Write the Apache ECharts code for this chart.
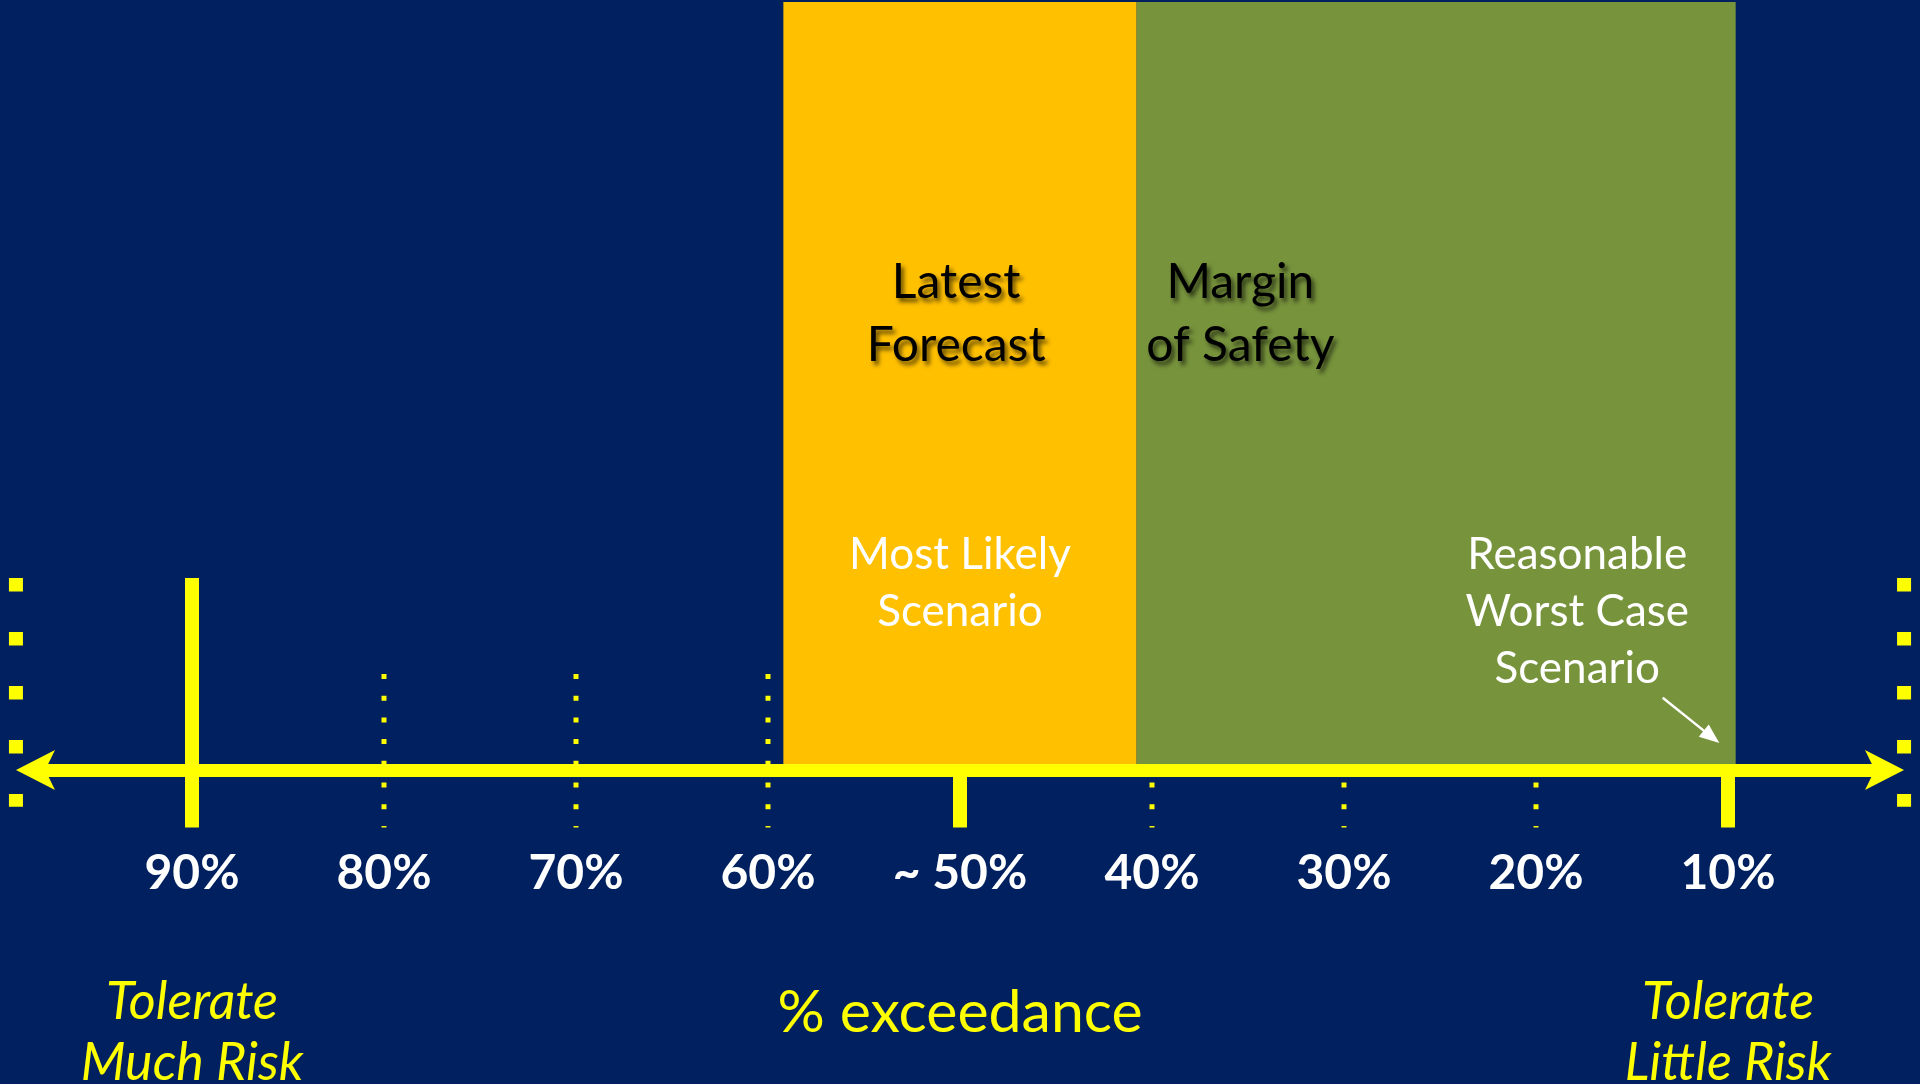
<!DOCTYPE html>
<html>
<head>
<meta charset="utf-8">
<title>% exceedance</title>
<script src="https://cdn.jsdelivr.net/npm/echarts@6/dist/echarts.min.js"></script>
<style>
  html, body { margin: 0; padding: 0; background: #002060; }
  #chart { width: 1920px; height: 1084px; }
</style>
</head>
<body>
<div id="chart"></div>
<script>
// ---- data ---------------------------------------------------------------
// exceedance scale, 90% on the left down to 10% on the right
const tickValues = [90, 80, 70, 60, 50, 40, 30, 20, 10];
const tickLabels = ['90%', '80%', '70%', '60%', '~ 50%', '40%', '30%', '20%', '10%'];
const tickKinds  = ['major', 'minor', 'minor', 'minor', 'major', 'minor', 'minor', 'minor', 'major'];

// shaded bands, each running from one exceedance value to another
const bandNames = ['Latest Forecast', 'Margin of Safety'];
const bandFrom  = [59.2, 40.8];
const bandTo    = [40.8, 9.6];

// text around the scale
const bandTitles    = ['Latest\nForecast', 'Margin\nof Safety'];
const scenarioNotes = ['Most Likely\nScenario', 'Reasonable\nWorst Case\nScenario'];
const axisTitle     = '% exceedance';
const riskNotes     = ['Tolerate\nMuch Risk', 'Tolerate\nLittle Risk'];

// ---- layout (vertical units: axis line at 0, top of bands at 100) ----------
const YELLOW = '#FFFF00';
const FONT = 'Lato, "Open Sans", sans-serif';
const layout = {
  bandTop: 100, bandBottom: 0,
  majorTop: 25, majorBottom: -7.5,
  minorTop: 12.5, minorBottom: -7.5,
  edgeTop: 25, edgeBottom: -4.8, edgeAt: [99.17, 0.83],
  tickLabelY: -13.5,
  bandTitleY: 59.4, bandTitleX: [50.2, 35.4],
  scenarioY: [24.3, 20.6], scenarioX: [50, 17.85],
  axisTitleY: -31.7, axisTitleX: 50,
  riskY: -34.2, riskX: [90, 10],
  pointerFrom: [13.4, 9.4], pointerTo: [10.45, 3.5]
};

const colors = { forecast: '#FFC000', margin: '#77933C' };
const bandColors = [colors.forecast, colors.margin];

// ---- series renderers -----------------------------------------------------
function renderTicks(params, api) {
  const i = api.value(1);
  const v = api.value(0);
  if (tickKinds[i] === 'major') {
    const a = api.coord([v, layout.majorTop]);
    const b = api.coord([v, layout.majorBottom]);
    return {
      type: 'rect',
      shape: { x: a[0] - 7, y: a[1], width: 14, height: b[1] - a[1] },
      style: { fill: YELLOW }
    };
  }
  const a = api.coord([v, layout.minorTop]);
  const b = api.coord([v, layout.minorBottom]);
  return {
    type: 'line',
    shape: { x1: a[0], y1: a[1], x2: b[0], y2: b[1] },
    style: { stroke: YELLOW, lineWidth: 5, lineDash: [5, 16.7], lineCap: 'butt' }
  };
}

function renderEdges(params, api) {
  const v = api.value(0);
  const a = api.coord([v, layout.edgeTop]);
  const b = api.coord([v, layout.edgeBottom]);
  return {
    type: 'line',
    shape: { x1: a[0], y1: a[1], x2: b[0], y2: b[1] },
    style: { stroke: YELLOW, lineWidth: 14, lineDash: [13.5, 40.5], lineCap: 'butt' }
  };
}

function renderBands(params, api) {
  const i = params.dataIndex;
  const a = api.coord([api.value(0), layout.bandTop]);
  const b = api.coord([api.value(1), layout.bandBottom]);
  return {
    type: 'rect',
    shape: { x: a[0], y: a[1], width: b[0] - a[0], height: b[1] - a[1] },
    style: { fill: bandColors[i] }
  };
}

function textEl(api, x, y, text, font, fill, lineHeight, extra) {
  const p = api.coord([x, y]);
  return {
    type: 'text',
    x: p[0], y: p[1],
    style: Object.assign({
      text: text, font: font, fill: fill,
      align: 'center', verticalAlign: 'middle', lineHeight: lineHeight
    }, extra || {})
  };
}

function renderText(params, api) {
  if (params.dataIndex !== 0) return null;
  const children = [];
  // tick labels
  tickValues.forEach(function (v, i) {
    children.push(textEl(api, v, layout.tickLabelY, tickLabels[i], 'bold 48px ' + FONT, '#FFFFFF', 50));
  });
  // band titles with a soft drop shadow
  const shadow = {
    textShadowColor: 'rgba(0,0,0,0.6)', textShadowBlur: 4, textShadowOffsetX: 3, textShadowOffsetY: 4,
    shadowColor: 'rgba(0,0,0,0.6)', shadowBlur: 4, shadowOffsetX: 3, shadowOffsetY: 4
  };
  bandTitles.forEach(function (t, i) {
    children.push(textEl(api, layout.bandTitleX[i], layout.bandTitleY, t, '48px ' + FONT, '#000000', 63, shadow));
  });
  // scenario notes
  scenarioNotes.forEach(function (t, i) {
    children.push(textEl(api, layout.scenarioX[i], layout.scenarioY[i], t, '44px ' + FONT, '#FFFFFF', 57));
  });
  // axis title and the two risk notes
  children.push(textEl(api, layout.axisTitleX, layout.axisTitleY, axisTitle, '59px ' + FONT, YELLOW, 62));
  riskNotes.forEach(function (t, i) {
    children.push(textEl(api, layout.riskX[i], layout.riskY, t, 'italic 52px ' + FONT, YELLOW, 61));
  });
  // pointer from the worst-case note to the edge of the margin band
  const s = api.coord(layout.pointerFrom);
  const e = api.coord(layout.pointerTo);
  const dx = e[0] - s[0], dy = e[1] - s[1];
  const len = Math.sqrt(dx * dx + dy * dy);
  const ux = dx / len, uy = dy / len;
  const headL = 20, headW = 8;
  const bx = e[0] - ux * headL, by = e[1] - uy * headL;
  children.push({
    type: 'line',
    shape: { x1: s[0], y1: s[1], x2: bx + ux * 2, y2: by + uy * 2 },
    style: { stroke: '#FFFFFF', lineWidth: 2.5 }
  });
  children.push({
    type: 'polygon',
    shape: { points: [[e[0], e[1]], [bx - uy * headW, by + ux * headW], [bx + uy * headW, by - ux * headW]] },
    style: { fill: '#FFFFFF' }
  });
  return { type: 'group', children: children };
}

// ---- chart ----------------------------------------------------------------
const chart = echarts.init(document.getElementById('chart'), null, { renderer: 'canvas' });

chart.setOption({
  backgroundColor: '#002060',
  animation: false,
  grid: { left: 47, right: 47, top: 2, bottom: 256.4 },
  xAxis: {
    type: 'value',
    inverse: true,
    min: 2.448,
    max: 97.552,
    z: 10,
    axisLine: {
      show: true,
      onZero: true,
      symbol: ['arrow', 'arrow'],
      symbolSize: [30, 39],
      symbolOffset: [-31, 31],
      lineStyle: { color: YELLOW, width: 13 }
    },
    axisTick: { show: false },
    axisLabel: { show: false },
    splitLine: { show: false }
  },
  yAxis: {
    type: 'value',
    min: -7.5,
    max: 100,
    show: false,
    splitLine: { show: false }
  },
  series: [
    {
      name: 'ticks',
      type: 'custom',
      z: 1,
      silent: true,
      renderItem: renderTicks,
      data: tickValues.map(function (v, i) { return [v, i]; })
    },
    {
      name: 'edges',
      type: 'custom',
      z: 1,
      silent: true,
      renderItem: renderEdges,
      data: layout.edgeAt.map(function (v) { return [v]; })
    },
    {
      name: 'bands',
      type: 'custom',
      z: 2,
      silent: true,
      renderItem: renderBands,
      data: bandNames.map(function (n, i) { return { name: n, value: [bandFrom[i], bandTo[i]] }; })
    },
    {
      name: 'text',
      type: 'custom',
      z: 12,
      silent: true,
      renderItem: renderText,
      data: [[50, 0]]
    }
  ]
});
</script>
</body>
</html>
